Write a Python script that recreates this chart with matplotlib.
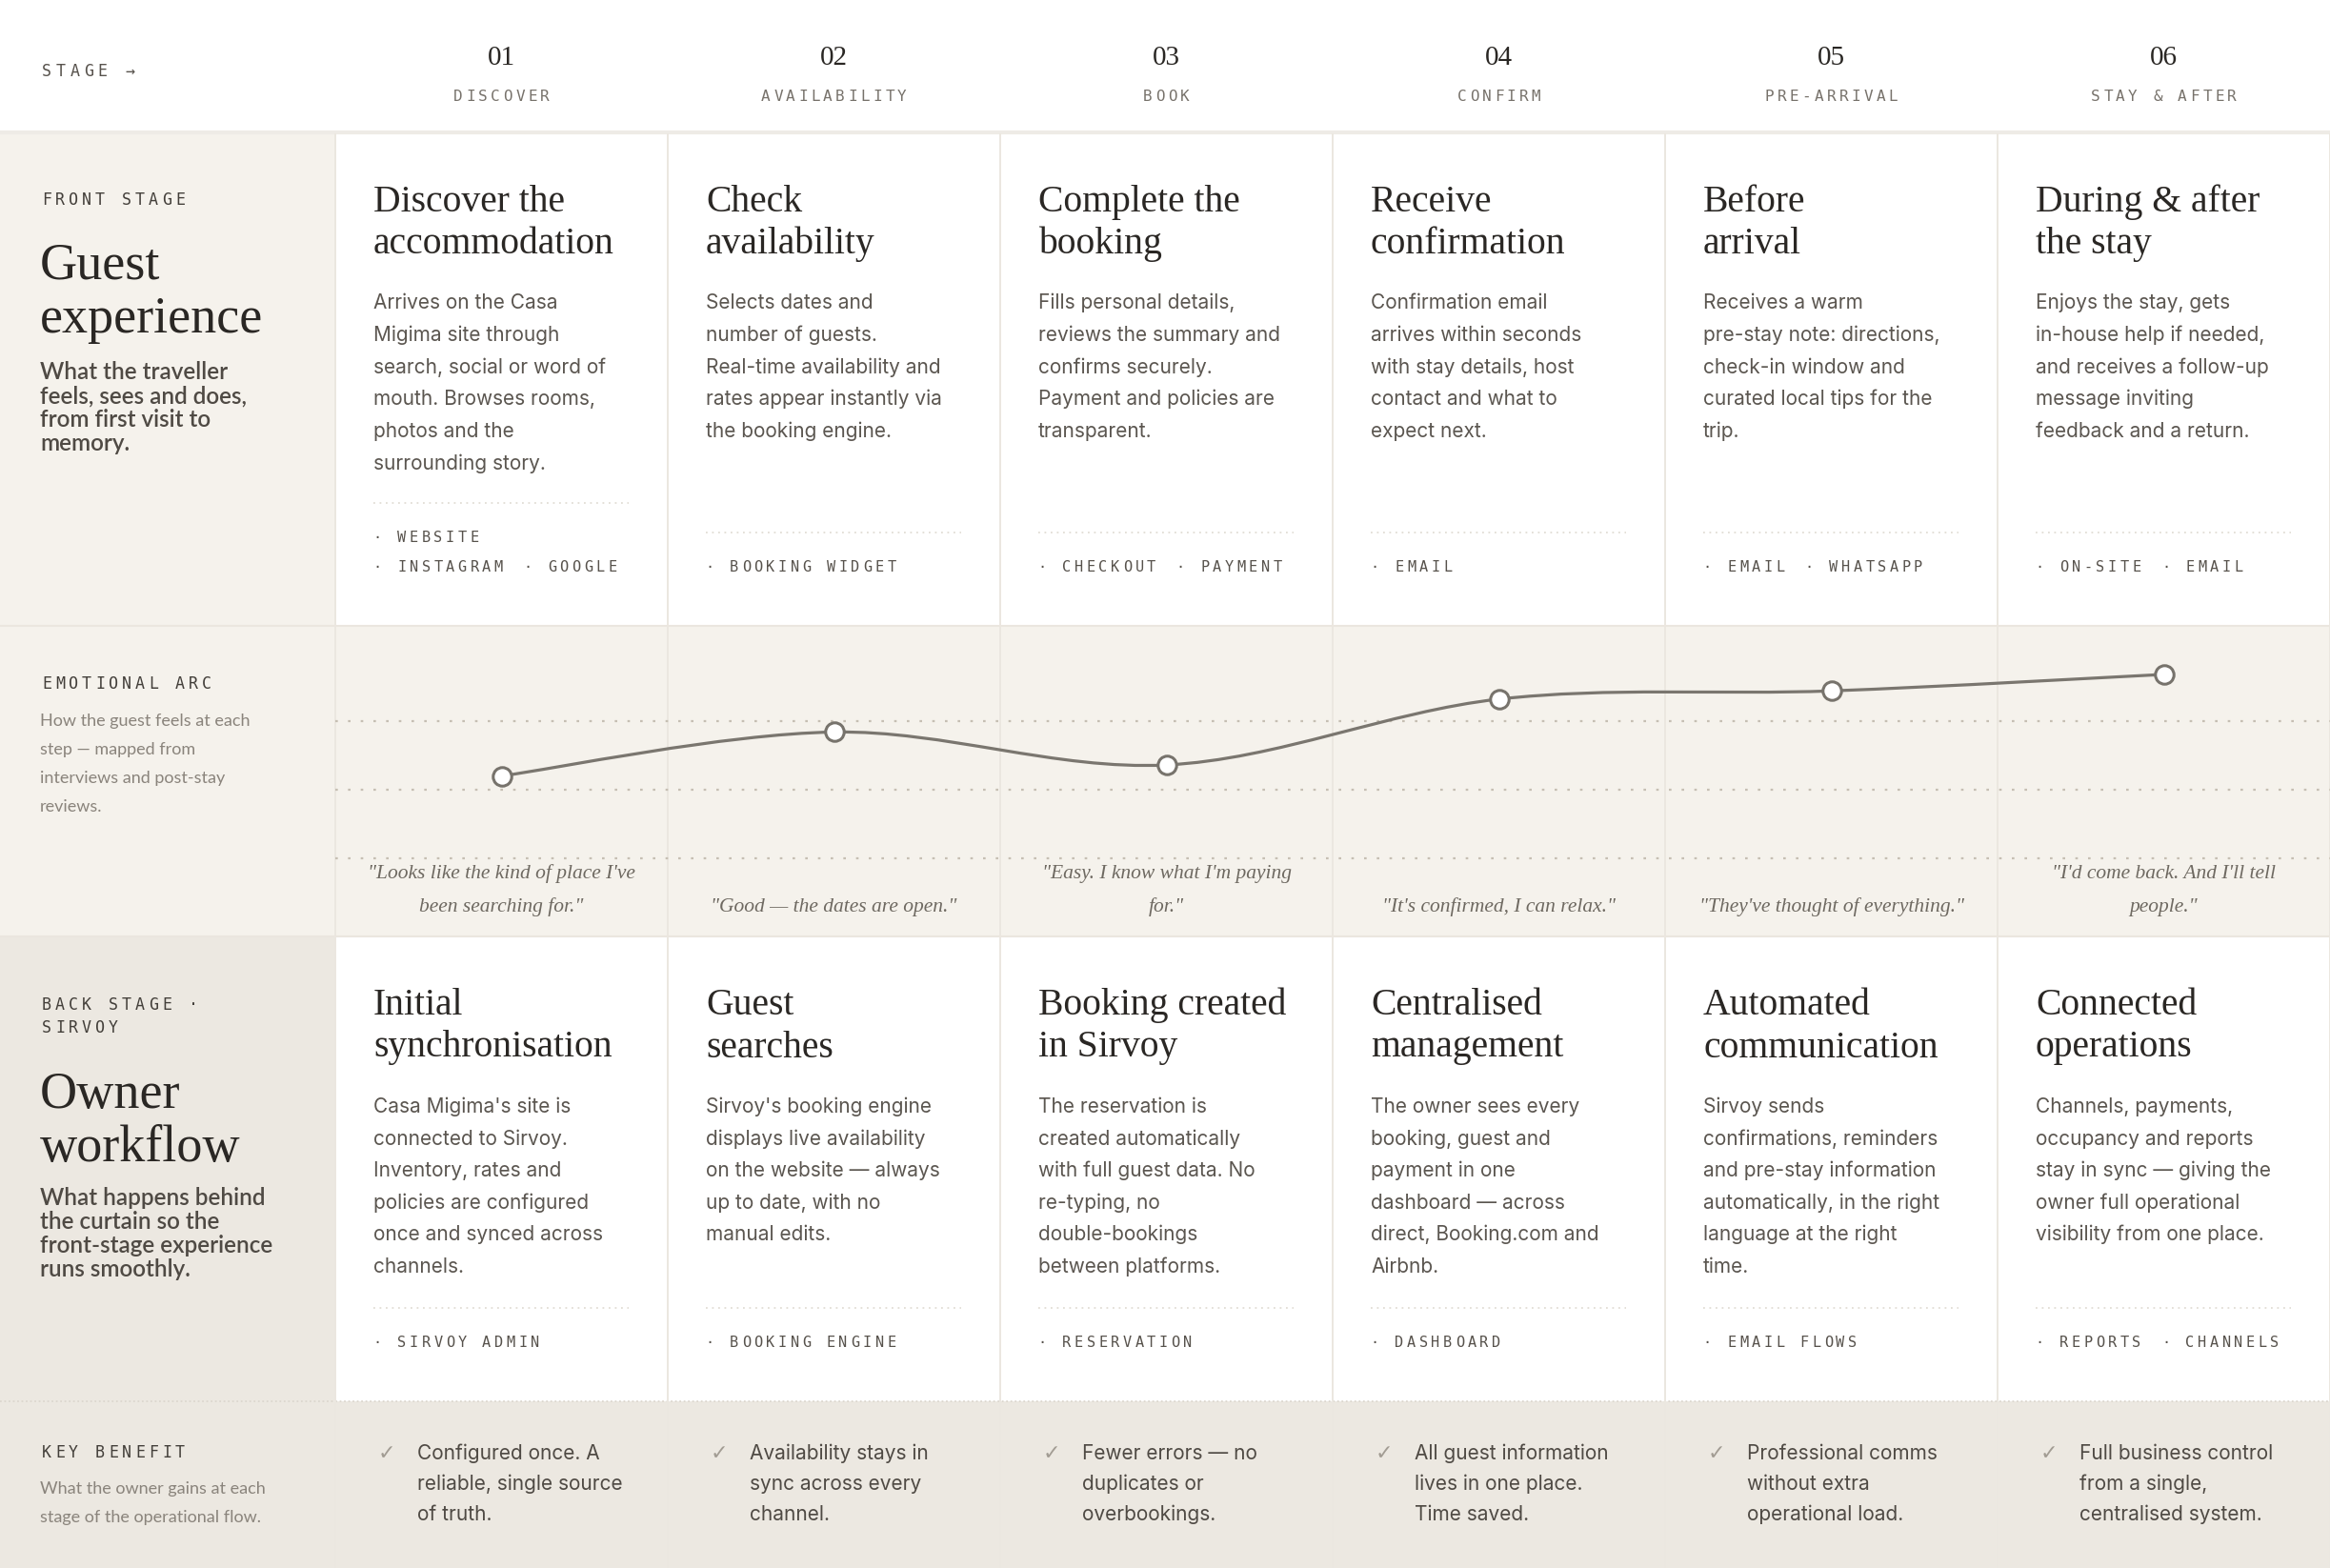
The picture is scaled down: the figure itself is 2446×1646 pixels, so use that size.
import numpy as np
import matplotlib.pyplot as plt
from matplotlib.patches import Rectangle, PathPatch
from matplotlib.path import Path

W, H = 2446, 1646
SERIF = 'Liberation Serif'
SANS = 'Inter'
MONO = 'DejaVu Sans Mono'
LIGHT = 'Lato'

# --- data -------------------------------------------------------------
stage_numbers = ['01', '02', '03', '04', '05', '06']
stage_names = ['DISCOVER', 'AVAILABILITY', 'BOOK', 'CONFIRM', 'PRE-ARRIVAL', 'STAY & AFTER']

front_titles = [
    ['Discover the', 'accommodation'],
    ['Check', 'availability'],
    ['Complete the', 'booking'],
    ['Receive', 'confirmation'],
    ['Before', 'arrival'],
    ['During & after', 'the stay'],
]
front_texts = [
    ['Arrives on the Casa', 'Migima site through', 'search, social or word of',
     'mouth. Browses rooms,', 'photos and the', 'surrounding story.'],
    ['Selects dates and', 'number of guests.', 'Real-time availability and',
     'rates appear instantly via', 'the booking engine.'],
    ['Fills personal details,', 'reviews the summary and', 'confirms securely.',
     'Payment and policies are', 'transparent.'],
    ['Confirmation email', 'arrives within seconds', 'with stay details, host',
     'contact and what to', 'expect next.'],
    ['Receives a warm', 'pre-stay note: directions,', 'check-in window and',
     'curated local tips for the', 'trip.'],
    ['Enjoys the stay, gets', 'in-house help if needed,', 'and receives a follow-up',
     'message inviting', 'feedback and a return.'],
]
front_tags = [
    [['WEBSITE'], ['INSTAGRAM', 'GOOGLE']],
    [['BOOKING WIDGET']],
    [['CHECKOUT', 'PAYMENT']],
    [['EMAIL']],
    [['EMAIL', 'WHATSAPP']],
    [['ON-SITE', 'EMAIL']],
]

# emotional arc, 0-100
emotion_scores = [55, 71, 59, 83, 86, 92]
emotion_grid = [25, 50, 75]
quotes = [
    ['"Looks like the kind of place I\'ve', 'been searching for."'],
    ['"Good \u2014 the dates are open."'],
    ['"Easy. I know what I\'m paying', 'for."'],
    ['"It\'s confirmed, I can relax."'],
    ['"They\'ve thought of everything."'],
    ['"I\'d come back. And I\'ll tell', 'people."'],
]

back_titles = [
    ['Initial', 'synchronisation'],
    ['Guest', 'searches'],
    ['Booking created', 'in Sirvoy'],
    ['Centralised', 'management'],
    ['Automated', 'communication'],
    ['Connected', 'operations'],
]
back_texts = [
    ["Casa Migima's site is", 'connected to Sirvoy.', 'Inventory, rates and',
     'policies are configured', 'once and synced across', 'channels.'],
    ["Sirvoy's booking engine", 'displays live availability', 'on the website \u2014 always',
     'up to date, with no', 'manual edits.'],
    ['The reservation is', 'created automatically', 'with full guest data. No',
     're-typing, no', 'double-bookings', 'between platforms.'],
    ['The owner sees every', 'booking, guest and', 'payment in one',
     'dashboard \u2014 across', 'direct, Booking.com and', 'Airbnb.'],
    ['Sirvoy sends', 'confirmations, reminders', 'and pre-stay information',
     'automatically, in the right', 'language at the right', 'time.'],
    ['Channels, payments,', 'occupancy and reports', 'stay in sync \u2014 giving the',
     'owner full operational', 'visibility from one place.'],
]
back_tags = [
    [['SIRVOY ADMIN']],
    [['BOOKING ENGINE']],
    [['RESERVATION']],
    [['DASHBOARD']],
    [['EMAIL FLOWS']],
    [['REPORTS', 'CHANNELS']],
]
benefits = [
    ['Configured once. A', 'reliable, single source', 'of truth.'],
    ['Availability stays in', 'sync across every', 'channel.'],
    ['Fewer errors \u2014 no', 'duplicates or', 'overbookings.'],
    ['All guest information', 'lives in one place.', 'Time saved.'],
    ['Professional comms', 'without extra', 'operational load.'],
    ['Full business control', 'from a single,', 'centralised system.'],
]

# --- layout -----------------------------------------------------------
LEFT_W = 352
COL_W = (W - LEFT_W) / 6
HEADER_B = 139
FRONT_B = 657
ARC_B = 983
BACK_B = 1471

fig = plt.figure(figsize=(W / 100, H / 100), dpi=100)
fig.patch.set_facecolor('white')
ax = fig.add_axes([0, 0, 1, 1])
ax.set_xlim(0, W)
ax.set_ylim(H, 0)
ax.axis('off')


def rect(x0, y0, x1, y1, color):
    ax.add_patch(Rectangle((x0, y0), x1 - x0, y1 - y0, facecolor=color, edgecolor='none', zorder=0))


def spaced(x, y, s, pitch, size, color, ha='left'):
    # letter-spaced mono text, one glyph per cell
    if ha == 'center':
        x = x - len(s) * pitch / 2
    for i, ch in enumerate(s):
        if ch != ' ':
            ax.text(x + (i + 0.5) * pitch, y, ch, ha='center', va='baseline',
                    family=MONO, fontsize=size, color=color)
    return x + len(s) * pitch


def lines(x, y, rows, lead, **kw):
    for i, row in enumerate(rows):
        ax.text(x, y + i * lead, row, va='baseline', **kw)


def dotted(x0, x1, y, color='#dcd6cd'):
    ax.plot([x0, x1], [y, y], color=color, lw=1.3, linestyle=(0, (1, 2.6)), zorder=1)


def tag_rows(x, y_last, rows, sep_color='#e2ddd5'):
    n = len(rows)
    y_first = y_last - (n - 1) * 31
    dotted(x, x + COL_W - 81, y_first - 41, sep_color)
    for r, row in enumerate(rows):
        cx = x - 2
        for t in row:
            cx = spaced(cx, y_first + r * 31, '\u00b7 ' + t, 12.7, 11, '#57524c') + 18


# backgrounds
rect(0, HEADER_B, LEFT_W, FRONT_B, '#f5f2ec')
rect(0, FRONT_B, W, ARC_B, '#f5f2ec')
rect(0, ARC_B, LEFT_W, BACK_B, '#ece8e1')
rect(0, BACK_B, W, H, '#ece8e1')

# borders
ax.plot([0, W], [HEADER_B, HEADER_B], color='#eeebe6', lw=3, zorder=1)
ax.plot([0, W], [FRONT_B, FRONT_B], color='#ebe6df', lw=1.5, zorder=1)
ax.plot([0, W], [ARC_B, ARC_B], color='#ebe6df', lw=1.5, zorder=1)
ax.plot([0, W], [BACK_B, BACK_B], color='#dcd7cf', lw=1.3, linestyle=(0, (1, 1.5)), zorder=1)
for k in range(7):
    x = LEFT_W + k * COL_W
    ax.plot([x, x], [HEADER_B + 2, H], color='#ebe7e0', lw=1.4, zorder=1)

# header
spaced(42, 80, 'STAGE \u2192', 14.5, 12, '#57524c')
for i in range(6):
    cx = LEFT_W + (i + 0.5) * COL_W
    ax.text(cx, 68, stage_numbers[i], ha='center', va='baseline', family=SERIF,
            fontsize=21, color='#2a2724')
    spaced(cx, 106, stage_names[i], 13, 11.5, '#77726b', ha='center')

# left column labels
LABEL = '#433f3a'
spaced(42, 215, 'FRONT STAGE', 14, 12, LABEL)
lines(42, 292, ['Guest', 'experience'], 57, family=SERIF, fontsize=39, color='#2a2724')
lines(42, 398, ['What the traveller', 'feels, sees and does,', 'from first visit to', 'memory.'],
      25, family=LIGHT, weight='semibold', fontsize=17.5, color='#4f4a44')

spaced(42, 723, 'EMOTIONAL ARC', 14, 12, LABEL)
lines(42, 762, ['How the guest feels at each', 'step \u2014 mapped from', 'interviews and post-stay',
                'reviews.'], 30, family=LIGHT, fontsize=13, color='#8a847c')

spaced(42, 1060, 'BACK STAGE \u00b7', 14, 12, LABEL)
spaced(42, 1084, 'SIRVOY', 14, 12, LABEL)
lines(42, 1163, ['Owner', 'workflow'], 56, family=SERIF, fontsize=39, color='#2a2724')
lines(42, 1265, ['What happens behind', 'the curtain so the', 'front-stage experience',
                 'runs smoothly.'], 25, family=LIGHT, weight='semibold', fontsize=17.5,
      color='#4f4a44')

spaced(42, 1530, 'KEY BENEFIT', 14, 12, LABEL)
lines(42, 1568, ['What the owner gains at each', 'stage of the operational flow.'], 30,
      family=LIGHT, fontsize=13, color='#8a847c')

# front stage cells
for i in range(6):
    x = LEFT_W + i * COL_W + 40
    lines(x, 222, front_titles[i], 44, family=SERIF, fontsize=28.5, color='#2a2724')
    lines(x, 324, front_texts[i], 33.8, family=SANS, fontsize=15, color='#5b5650')
    tag_rows(x, 600, front_tags[i])

# emotional arc quotes
for i in range(6):
    cx = LEFT_W + (i + 0.5) * COL_W
    q = quotes[i]
    y0 = 957 - (len(q) - 1) * 35
    for j, row in enumerate(q):
        ax.text(cx, y0 + j * 35, row, ha='center', va='baseline', family=SERIF,
                style='italic', fontsize=15.5, color='#6e6961')

# back stage cells
for i in range(6):
    x = LEFT_W + i * COL_W + 40
    lines(x, 1065, back_titles[i], 44.5, family=SERIF, fontsize=28.5, color='#2a2724')
    lines(x, 1168, back_texts[i], 33.6, family=SANS, fontsize=15, color='#5b5650')
    tag_rows(x, 1414, back_tags[i])

# key benefits
for i in range(6):
    x = LEFT_W + i * COL_W + 40
    ax.text(x + 14, 1532, '\u2713', ha='center', va='baseline', family='DejaVu Sans',
            fontsize=16, color='#a29c93')
    lines(x + 46, 1532, benefits[i], 32, family=SANS, fontsize=15, color='#4f4a44')

# --- emotional arc chart ---------------------------------------------
arc = fig.add_axes([LEFT_W / W, 1 - ARC_B / H, (W - LEFT_W) / W, (ARC_B - FRONT_B) / H])
arc.set_xlim(0, 6)
arc.set_ylim(-3.5, 109.7)
arc.patch.set_alpha(0)
arc.axis('off')
for g in emotion_grid:
    arc.axhline(g, color='#c6bfb3', lw=1.6, linestyle=(0, (1.2, 4.8)), zorder=1)

xs = np.arange(len(emotion_scores)) + 0.5
pts = np.column_stack([xs, emotion_scores]).astype(float)
ext = np.vstack([pts[0], pts, pts[-1]])
verts = [pts[0]]
codes = [Path.MOVETO]
for i in range(len(pts) - 1):
    p0, p1, p2, p3 = ext[i], ext[i + 1], ext[i + 2], ext[i + 3]
    verts += [p1 + (p2 - p0) / 6, p2 - (p3 - p1) / 6, p2]
    codes += [Path.CURVE4] * 3
arc.add_patch(PathPatch(Path(verts, codes), facecolor='none', edgecolor='#7a766f', lw=2.3, zorder=2))
arc.plot(xs, emotion_scores, 'o', ms=14, mfc='white', mec='#77736c', mew=2.2, zorder=3)

fig.savefig('out.png', dpi=100, facecolor='white')
